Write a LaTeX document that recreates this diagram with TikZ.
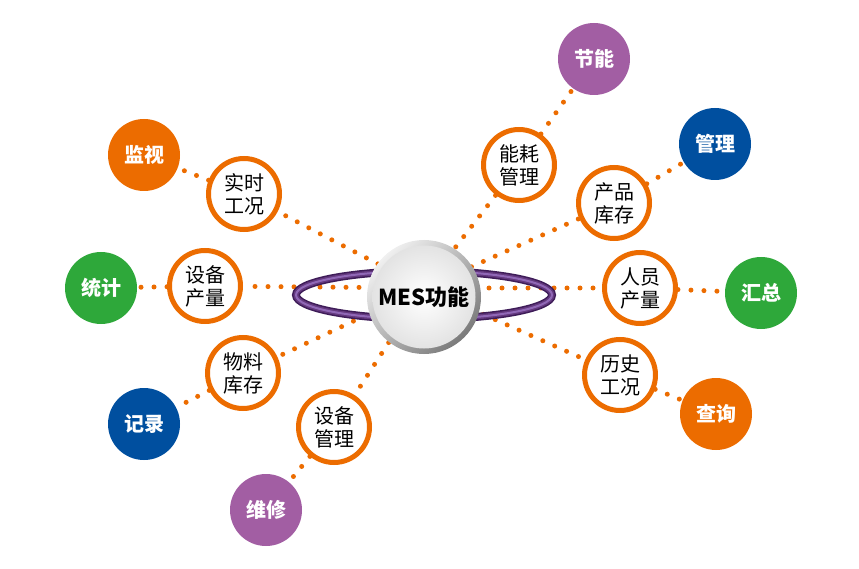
\documentclass[tikz,border=0pt]{standalone}
\usepackage{fontspec}
\newfontfamily\cjk{Noto Sans CJK SC}
\usetikzlibrary{backgrounds}
\definecolor{mesorange}{HTML}{EC6C00}
\definecolor{mesgreen}{HTML}{2EA83A}
\definecolor{mesblue}{HTML}{004F9F}
\definecolor{mespurple}{HTML}{A25EA3}
\definecolor{mesring}{HTML}{3E1C58}
\definecolor{mesringmid}{HTML}{64397F}
\definecolor{mesringlight}{HTML}{9068B6}

\begin{document}
\begin{tikzpicture}[x=1pt, y=-1pt,
    dotline/.style={draw=mesorange, line width=5pt, line cap=round, dash pattern=on 0pt off 13pt},
    ringnode/.style={circle, draw=mesorange, line width=5pt, fill=white, minimum size=71pt, inner sep=0pt, align=center, font=\cjk\fontsize{20}{23}\selectfont},
    tagnode/.style={circle, minimum size=72pt, inner sep=0pt, text=white, font=\cjk\bfseries\fontsize{20}{23}\selectfont}]
    \useasboundingbox (0,0) rectangle (859,569);
    \coordinate (hub) at (424,288);
    \draw[draw=mesring, line width=8pt] (424,295) ellipse [x radius=128, y radius=24];
    \draw[draw=mesringmid, line width=5pt] (424,295) ellipse [x radius=128, y radius=24];
    \draw[draw=mesringlight, line width=2pt] (424,295) ellipse [x radius=128, y radius=24];
    \shade[top color=black!6, bottom color=black!52, shading angle=45] (424,297) circle (57);
    \node[circle, minimum size=103pt, inner sep=0pt, inner color=white, outer color=black!11, font=\cjk\bfseries\fontsize{22}{24}\selectfont] (mes) at (424,297) {MES功能};

    \node[ringnode] (ssgk) at (244,194) {实时\\工况};
    \node[ringnode] (sbcl) at (205,286) {设备\\产量};
    \node[ringnode] (wlkc) at (243,373) {物料\\库存};
    \node[ringnode] (sbgl) at (334,427) {设备\\管理};
    \node[ringnode] (nhgl) at (519,165) {能耗\\管理};
    \node[ringnode] (cpkc) at (614,203) {产品\\库存};
    \node[ringnode] (rycl) at (640,288) {人员\\产量};
    \node[ringnode] (lsgk) at (620,375) {历史\\工况};

    \node[tagnode, fill=mesorange] (jianshi) at (144,155) {监视};
    \node[tagnode, fill=mesgreen] (tongji) at (101,288) {统计};
    \node[tagnode, fill=mesblue] (jilu) at (144,424) {记录};
    \node[tagnode, fill=mespurple] (weixiu) at (266,510) {维修};
    \node[tagnode, fill=mespurple] (jieneng) at (594,59) {节能};
    \node[tagnode, fill=mesblue] (guanli) at (715,144) {管理};
    \node[tagnode, fill=mesgreen] (huizong) at (761,293) {汇总};
    \node[tagnode, fill=mesorange] (chaxun) at (716,414) {查询};

    \begin{pgfonlayer}{background}
        \foreach \r/\t in {ssgk/jianshi, sbcl/tongji, wlkc/jilu, sbgl/weixiu, nhgl/jieneng, cpkc/guanli, rycl/huizong, lsgk/chaxun} {
            \draw[dotline] (hub) -- (\r);
            \draw[dotline] (\r) -- (\t);
        }
    \end{pgfonlayer}
\end{tikzpicture}
\end{document}
